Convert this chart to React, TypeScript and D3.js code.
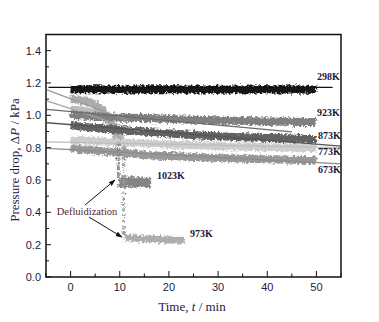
import React from "react";
import * as d3 from "d3";

const W = 379;
const H = 322;

// ---- data ----
const xTicks = [0, 10, 20, 30, 40, 50];
const yTicks = [0, 0.2, 0.4, 0.6, 0.8, 1.0, 1.2, 1.4];

const t298 = [0, 5, 10, 15, 20, 25, 30, 35, 40, 45, 50];
const v298 = [1.16, 1.161, 1.159, 1.16, 1.161, 1.16, 1.159, 1.16, 1.161, 1.16, 1.16];

const tMain = [0, 1, 2, 4, 6, 8, 10, 12, 15, 20, 25, 30, 35, 40, 45, 50];
const v923 = [1.01, 1.0, 1.0, 0.995, 0.99, 0.99, 0.985, 0.985, 0.984, 0.978, 0.972, 0.968, 0.965, 0.962, 0.96, 0.958];
const v873 = [0.94, 0.935, 0.93, 0.925, 0.92, 0.915, 0.91, 0.905, 0.898, 0.888, 0.878, 0.87, 0.865, 0.86, 0.856, 0.853];
const v773 = [0.85, 0.848, 0.846, 0.842, 0.838, 0.835, 0.832, 0.83, 0.826, 0.82, 0.815, 0.81, 0.806, 0.803, 0.8, 0.798];
const v673 = [0.8, 0.795, 0.79, 0.785, 0.78, 0.775, 0.77, 0.765, 0.755, 0.748, 0.742, 0.736, 0.732, 0.728, 0.725, 0.722];

const t1023a = [0, 1, 2, 3, 4, 5, 6, 7, 8, 9, 9.6];
const v1023a = [1.1, 1.1, 1.095, 1.09, 1.08, 1.065, 1.04, 1.01, 0.96, 0.9, 0.84];
const t1023d = [9.7, 9.7, 9.7, 9.7, 9.7, 9.7, 9.7, 9.7];
const v1023d = [0.82, 0.79, 0.76, 0.73, 0.7, 0.67, 0.64, 0.62];
const t1023b = [9.8, 11, 12, 13, 14, 15, 16.4];
const v1023b = [0.59, 0.585, 0.59, 0.585, 0.588, 0.585, 0.583];

const t973a = [0, 2, 4, 6, 8, 9, 10, 10.6];
const v973a = [1.04, 1.03, 1.02, 1.0, 0.96, 0.92, 0.87, 0.82];
const t973d = [10.8, 10.8, 10.8, 10.8, 10.8, 10.8, 10.8, 10.8, 10.8, 10.8, 10.8, 10.8, 10.8, 10.8, 10.8, 10.8];
const v973d = [0.8, 0.765, 0.73, 0.695, 0.66, 0.625, 0.59, 0.555, 0.52, 0.485, 0.45, 0.415, 0.38, 0.345, 0.31, 0.275];
const t973b = [11, 12, 14, 16, 18, 20, 22, 23.2];
const v973b = [0.245, 0.242, 0.238, 0.235, 0.232, 0.23, 0.228, 0.226];

// fit lines
const fitNames = ["298K", "1023K", "973K", "923K", "873K", "773K", "673K"];
const fitT0 = [-4.5, -4.8, -4.8, -4.8, -4.8, -4.8, -4.8];
const fitV0 = [1.173, 1.157, 1.09, 1.037, 0.954, 0.836, 0.796];
const fitT1 = [53.3, 11.5, 14, 45, 55, 55, 55];
const fitV1 = [1.173, 0.97, 0.9, 0.898, 0.81, 0.8, 0.7];

const labelNames = ["298K", "923K", "873K", "773K", "673K", "1023K", "973K"];
const labelT = [50.1, 50.1, 50.3, 50.3, 50.3, 17.6, 24.3];
const labelV = [1.22, 0.996, 0.854, 0.752, 0.643, 0.607, 0.245];

export default function App() {
  const x = d3.scaleLinear().domain([-5, 55]).range([46, 341]);
  const y = d3.scaleLinear().domain([0, 1.5]).range([277, 34.5]);

  const line = d3
    .line<[number, number]>()
    .x((d) => x(d[0]))
    .y((d) => y(d[1]))
    .curve(d3.curveMonotoneX);

  const zip = (ts: number[], vs: number[]) => ts.map((t, i) => [t, vs[i]] as [number, number]);

  const bands = [
    { t: t973a, v: v973a, c: "#bdbdbd", w: 8 },
    { t: t1023a, v: v1023a, c: "#ababab", w: 8 },
    { t: tMain, v: v673, c: "#989898", w: 8 },
    { t: tMain, v: v773, c: "#cdcdcd", w: 8 },
    { t: tMain, v: v873, c: "#626262", w: 8 },
    { t: tMain, v: v923, c: "#808080", w: 8 },
    { t: t298, v: v298, c: "#151515", w: 8 },
    { t: t1023b, v: v1023b, c: "#858585", w: 10 },
    { t: t973b, v: v973b, c: "#aeaeae", w: 7 },
  ];

  const dots = [
    { t: t1023d, v: v1023d, c: "#8a8a8a" },
    { t: t973d, v: v973d, c: "#9a9a9a" },
  ];

  const fitColors = ["#111111", "#9a9a9a", "#a4a4a4", "#6a6a6a", "#555555", "#bdbdbd", "#8c8c8c"];

  const minorX = d3.range(-5, 56, 5);
  const minorY = d3.range(0, 1.51, 0.1);

  const tickColor = "#1e2046";
  const serif = "'Liberation Serif', 'Times New Roman', serif";
  const sans = "'Liberation Sans', Arial, sans-serif";

  return (
    <svg width={W} height={H} style={{ position: "absolute", left: 0, top: 0, background: "#fff" }}>
      <defs>
        <marker id="ah" viewBox="0 0 10 10" refX="9" refY="5" markerWidth="7" markerHeight="7" orient="auto">
          <path d="M0,1.5 L10,5 L0,8.5 Z" fill="#111" />
        </marker>
        <clipPath id="plot">
          <rect x={46} y={34.5} width={295} height={242.5} />
        </clipPath>
        <filter id="rough" x="-5%" y="-20%" width="110%" height="140%">
          <feTurbulence type="fractalNoise" baseFrequency="0.45" numOctaves="2" seed="4" result="n" />
          <feDisplacementMap in="SourceGraphic" in2="n" scale="6" xChannelSelector="R" yChannelSelector="G" />
        </filter>
      </defs>

      <g clipPath="url(#plot)">
        <g filter="url(#rough)">
          {bands.map((b, i) => (
            <path key={"b" + i} d={line(zip(b.t, b.v)) || ""} fill="none" stroke={b.c} strokeWidth={b.w} strokeLinejoin="round" />
          ))}
          {dots.map((s, i) =>
            s.t.map((t, j) => (
              <rect key={"d" + i + "-" + j} x={x(t) - 1.5} y={y(s.v[j]) - 1.5} width={3} height={3} fill={s.c} />
            ))
          )}
        </g>
        {fitNames.map((n, i) => (
          <line
            key={"f" + n}
            x1={x(fitT0[i])}
            y1={y(fitV0[i])}
            x2={x(fitT1[i])}
            y2={y(fitV1[i])}
            stroke={fitColors[i]}
            strokeWidth={1.3}
          />
        ))}
        {labelNames.map((n, i) => (
          <text
            key={"l" + n}
            x={x(labelT[i])}
            y={y(labelV[i])}
            fontFamily={serif}
            fontWeight="bold"
            fontSize={10}
            fill="#1a1a3c"
          >
            {n}
          </text>
        ))}
      </g>

      {/* annotation */}
      <text x={x(-2.83)} y={y(0.383)} fontFamily={serif} fontSize={10.5} fill="#5a1e2a">
        Defluidization
      </text>
      <line x1={x(2.93)} y1={y(0.445)} x2={x(9.03)} y2={y(0.6)} stroke="#111" strokeWidth={1} markerEnd="url(#ah)" />
      <line x1={x(3.74)} y1={y(0.371)} x2={x(10.45)} y2={y(0.247)} stroke="#111" strokeWidth={1} markerEnd="url(#ah)" />

      {/* frame */}
      <rect x={46} y={34.5} width={295} height={242.5} fill="none" stroke="#111" strokeWidth={1.5} />

      {/* ticks */}
      {minorX.map((t) => (
        <line key={"mx" + t} x1={x(t)} x2={x(t)} y1={277} y2={t % 10 === 0 ? 271 : 273.5} stroke="#111" strokeWidth={1} />
      ))}
      {minorY.map((v, i) => (
        <line key={"my" + i} x1={46} x2={i % 2 === 0 ? 51 : 49} y1={y(v)} y2={y(v)} stroke="#111" strokeWidth={1} />
      ))}

      {xTicks.map((t) => (
        <text key={"xt" + t} x={x(t)} y={291} textAnchor="middle" fontFamily={sans} fontSize={11} fill={tickColor}>
          {t}
        </text>
      ))}
      {yTicks.map((v) => (
        <text key={"yt" + v} x={41} y={y(v) + 4} textAnchor="end" fontFamily={sans} fontSize={11} fill={tickColor}>
          {v.toFixed(1)}
        </text>
      ))}

      <text x={192} y={311} textAnchor="middle" fontFamily={serif} fontSize={13} fill={tickColor}>
        Time, <tspan fontStyle="italic">t</tspan> / min
      </text>
      <text
        transform={`translate(19,160) rotate(-90)`}
        textAnchor="middle"
        fontFamily={serif}
        fontSize={13}
        fill={tickColor}
      >
        Pressure drop, Δ<tspan fontStyle="italic">P</tspan> / kPa
      </text>
    </svg>
  );
}
